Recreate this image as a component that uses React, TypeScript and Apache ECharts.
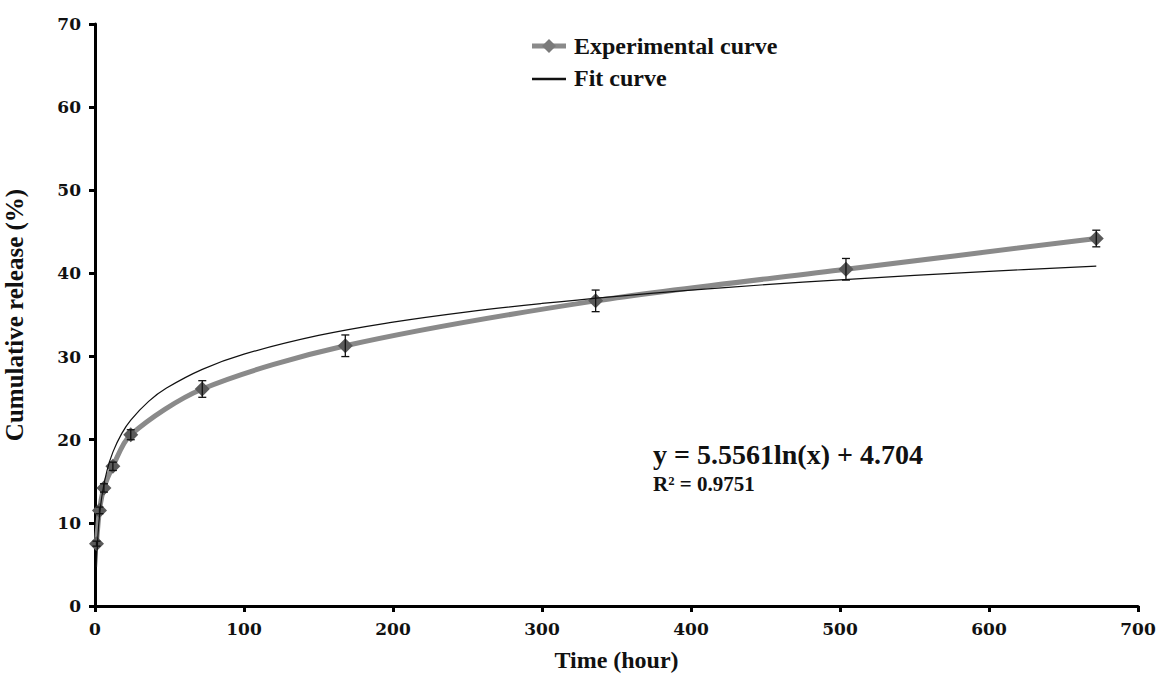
import React, { useEffect, useRef } from "react";
import * as echarts from "echarts";

const timeHours = [1, 3, 6, 12, 24, 72, 168, 336, 504, 672];
const releasePct = [7.5, 11.5, 14.2, 16.8, 20.6, 26.1, 31.3, 36.7, 40.5, 44.2];
const releaseErr = [0.3, 0.4, 0.5, 0.5, 0.6, 1.0, 1.3, 1.3, 1.3, 1.0];

const fitX = [1, 2, 3, 5, 8, 12, 18, 24, 36, 48, 72, 100, 150, 200, 250, 300, 350, 400, 450, 500, 550, 600, 672];
const fitY = [4.7, 8.56, 10.81, 13.65, 16.26, 18.51, 20.76, 22.36, 24.61, 26.21, 28.46, 30.29, 32.54, 34.14, 35.38, 36.39, 37.25, 37.99, 38.65, 39.23, 39.76, 40.25, 40.87];

const xTicks = [0, 100, 200, 300, 400, 500, 600, 700];
const yTicks = [0, 10, 20, 30, 40, 50, 60, 70];
const legendNames = ["Experimental curve", "Fit curve"];

const SERIF = "'Liberation Serif', 'Times New Roman', serif";
const TICKFONT = "'DejaVu Serif', serif";

export default function App() {
  const ref = useRef<HTMLDivElement>(null);
  useEffect(() => {
    if (!ref.current) return;
    const chart = echarts.init(ref.current, null, { renderer: "svg" });
    const expData = timeHours.map((t, i) => [t, releasePct[i]]);
    const fitData = fitX.map((t, i) => [t, fitY[i]]);
    const errData = timeHours.map((t, i) => [t, releasePct[i] - releaseErr[i], releasePct[i] + releaseErr[i]]);
    const axisCommon = {
      axisLine: { show: true, lineStyle: { color: "#000", width: 3 } },
      axisTick: { show: true, inside: false, length: 6, lineStyle: { color: "#000", width: 3 } },
      splitLine: { show: false },
      axisLabel: { color: "#111", fontFamily: TICKFONT, fontWeight: "bold" as const, fontSize: 17 },
    };
    const legX = 532;
    const legY1 = 46;
    const legY2 = 79;
    chart.setOption({
      animation: false,
      backgroundColor: "#fff",
      grid: { left: 95, right: 19, top: 24, bottom: 68, containLabel: false, outerBoundsMode: "none" },
      xAxis: {
        type: "value",
        min: 0,
        max: 700,
        interval: 100,
        name: "Time (hour)",
        nameLocation: "middle",
        nameGap: 42,
        nameTextStyle: { fontFamily: SERIF, fontWeight: "bold", fontSize: 24, color: "#111", lineHeight: 24 },
        ...axisCommon,
        axisLabel: { ...axisCommon.axisLabel, margin: 14, formatter: (v: number) => (xTicks.includes(v) ? String(v) : "") },
      },
      yAxis: {
        type: "value",
        min: 0,
        max: 70,
        interval: 10,
        name: "Cumulative release (%)",
        nameLocation: "middle",
        nameGap: 68,
        nameTextStyle: { fontFamily: SERIF, fontWeight: "bold", fontSize: 25, color: "#111", lineHeight: 25 },
        ...axisCommon,
        axisLabel: { ...axisCommon.axisLabel, margin: 14, formatter: (v: number) => (yTicks.includes(v) ? String(v) : "") },
      },
      series: [
        {
          name: legendNames[0],
          type: "line",
          data: expData,
          smooth: 0.3,
          symbol: "diamond",
          symbolSize: 15,
          lineStyle: { color: "#8a8a8a", width: 5 },
          itemStyle: { color: "#5a5a5a" },
          z: 3,
        },
        {
          name: legendNames[1],
          type: "line",
          data: fitData,
          smooth: 0.4,
          symbol: "none",
          lineStyle: { color: "#111", width: 1.2 },
          itemStyle: { color: "#111" },
          z: 4,
        },
        {
          name: "err",
          type: "custom",
          data: errData,
          z: 5,
          renderItem: (params: any, api: any) => {
            const x = api.value(0);
            const lo = api.coord([x, api.value(1)]);
            const hi = api.coord([x, api.value(2)]);
            const cap = 4;
            const style = { stroke: "#111", lineWidth: 1.3 };
            return {
              type: "group",
              children: [
                { type: "line", shape: { x1: lo[0], y1: lo[1], x2: hi[0], y2: hi[1] }, style },
                { type: "line", shape: { x1: lo[0] - cap, y1: lo[1], x2: lo[0] + cap, y2: lo[1] }, style },
                { type: "line", shape: { x1: hi[0] - cap, y1: hi[1], x2: hi[0] + cap, y2: hi[1] }, style },
              ],
            };
          },
        },
      ],
      graphic: [
        { type: "line", shape: { x1: legX, y1: legY1, x2: legX + 34, y2: legY1 }, style: { stroke: "#8a8a8a", lineWidth: 5 } },
        { type: "polygon", shape: { points: [[legX + 17, legY1 - 7], [legX + 24, legY1], [legX + 17, legY1 + 7], [legX + 10, legY1]] }, style: { fill: "#7a7a7a" } },
        { type: "text", x: legX + 42, y: legY1, style: { text: legendNames[0], fontFamily: SERIF, fontWeight: "bold", fontSize: 24, fill: "#111", verticalAlign: "middle" } },
        { type: "line", shape: { x1: legX, y1: legY2, x2: legX + 34, y2: legY2 }, style: { stroke: "#111", lineWidth: 2.5 } },
        { type: "text", x: legX + 42, y: legY2 - 1, style: { text: legendNames[1], fontFamily: SERIF, fontWeight: "bold", fontSize: 24, fill: "#111", verticalAlign: "middle" } },
        {
          type: "text",
          left: 653,
          top: 440,
          style: { text: "y = 5.5561ln(x) + 4.704", fontFamily: SERIF, fontWeight: "bold", fontSize: 28, fill: "#111" },
        },
        {
          type: "text",
          left: 653,
          top: 473,
          style: { text: "R² = 0.9751", fontFamily: SERIF, fontWeight: "bold", fontSize: 21, fill: "#111" },
        },
      ],
    });
    return () => chart.dispose();
  }, []);
  return <div ref={ref} style={{ position: "fixed", left: 0, top: 0, width: 1157, height: 674 }} />;
}
